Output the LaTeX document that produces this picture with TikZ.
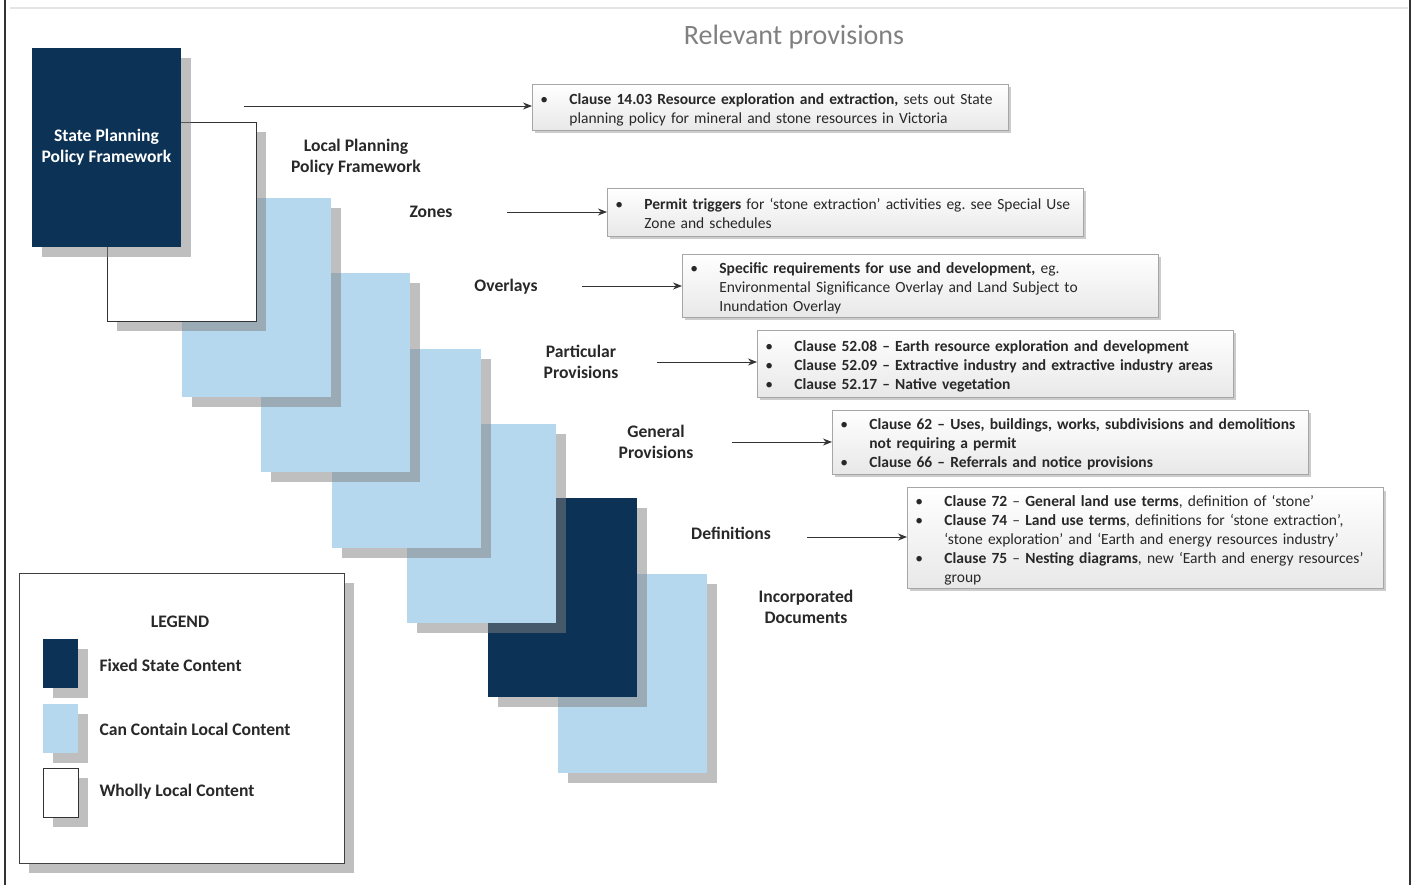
\documentclass[tikz,border=0pt]{standalone}
\usepackage{fontspec}
\setmainfont{Carlito}
\usetikzlibrary{shadows,arrows.meta}
\definecolor{navy}{RGB}{12,50,85}
\definecolor{lblue}{RGB}{182,216,238}
\definecolor{txt}{RGB}{40,40,40}
\frenchspacing
\newcommand\bitem[1]{\par\noindent\makebox[29pt][l]{\textbullet}\parbox[t]{430pt}{\raggedright\strut #1\strut}\par\prevdepth=\dp\strutbox}
\newcommand\lblfont{\fontsize{17.6}{21}\selectfont\bfseries}
\begin{document}
\begin{tikzpicture}[x=1pt,y=-1pt,
  lshadow/.style={drop shadow={shadow xshift=10pt,shadow yshift=-10pt,fill=black!50,opacity=0.5}},
  layerbox/.style={minimum width=149pt,minimum height=199pt,inner sep=0pt,outer sep=0pt,anchor=north west,lshadow},
  fixedbox/.style={layerbox,fill=navy},
  localbox/.style={layerbox,fill=lblue},
  wholebox/.style={layerbox,fill=white,draw=black!80,line width=0.9pt},
  legsq/.style={minimum width=35pt,minimum height=49pt,inner sep=0pt,outer sep=0pt,anchor=north west,lshadow},
  lbl/.style={font=\lblfont,text=txt,align=center},
  pbox/.style={anchor=west,minimum width=476pt,text width=460pt,inner xsep=8pt,inner ysep=0pt,
    draw=black!35,line width=0.8pt,top color=white,bottom color=black!9,
    drop shadow={shadow xshift=3pt,shadow yshift=-3pt,fill=black!40,opacity=0.5},
    font=\fontsize{15.5}{19}\selectfont,text=txt},
  arr/.style={draw=black!80,line width=0.9pt,-{Stealth[length=9pt,width=7pt]}}
]
\useasboundingbox (0,0) rectangle (1413,885);
% frame
\draw[black!80,line width=1.5pt] (5,0) -- (5,885);
\draw[black!80,line width=1.5pt] (1410,0) -- (1410,885);
\draw[black!10,line width=2.5pt] (10,8) -- (1408,8);
\node[text=black!50,font=\fontsize{28}{32}\selectfont] (title) at (794,37) {Relevant provisions};

% stack of layers (drawn from back to front)
\node[localbox] (incdocs) at (558,574) {};
\node[fixedbox] (defs) at (488,498) {};
\node[localbox] (genprov) at (407,424) {};
\node[localbox] (partprov) at (332,349) {};
\node[localbox] (overlays) at (261,273) {};
\node[localbox] (zones) at (182,198) {};
\node[wholebox] (lppf) at (107,122) {};
\node[fixedbox,text=white,font=\lblfont,align=center] (sppf) at (32,48) {State Planning\\Policy Framework};

% labels
\node[lbl] (lLPPF) at (356,157) {Local Planning\\Policy Framework};
\node[lbl] (lZones) at (431,212) {Zones};
\node[lbl] (lOver) at (506,287) {Overlays};
\node[lbl] (lPart) at (581,362) {Particular\\Provisions};
\node[lbl] (lGen) at (656,442) {General\\Provisions};
\node[lbl] (lDef) at (731,533) {Definitions};
\node[lbl] (lInc) at (806,607) {Incorporated\\Documents};

% provision boxes
\node[pbox,minimum height=46pt] (b1) at (532,107) {%
\bitem{\textbf{Clause 14.03 Resource exploration and extraction,} sets out State\\planning policy for mineral and stone resources in Victoria}};
\node[pbox,minimum height=48pt] (b2) at (607,212) {%
\bitem{\textbf{Permit triggers} for ‘stone extraction’ activities eg. see Special Use\\Zone and schedules}};
\node[pbox,minimum height=63pt] (b3) at (682,285.5) {%
\bitem{\textbf{Specific requirements for use and development,} eg.\\Environmental Significance Overlay and Land Subject to\\Inundation Overlay}};
\node[pbox,minimum height=67pt] (b4) at (757,363.5) {%
\bitem{\textbf{Clause 52.08 – Earth resource exploration and development}}
\bitem{\textbf{Clause 52.09 – Extractive industry and extractive industry areas}}
\bitem{\textbf{Clause 52.17 – Native vegetation}}};
\node[pbox,minimum height=64pt] (b5) at (832,442) {%
\bitem{\textbf{Clause 62 – Uses, buildings, works, subdivisions and demolitions\\not requiring a permit}}
\bitem{\textbf{Clause 66 – Referrals and notice provisions}}};
\node[pbox,minimum height=98pt] (b6) at (907,538) {%
\bitem{\textbf{Clause 72} – \textbf{General land use terms}, definition of ‘stone’}
\bitem{\textbf{Clause 74} – \textbf{Land use terms}, definitions for ‘stone extraction’,\\‘stone exploration’ and ‘Earth and energy resources industry’}
\bitem{\textbf{Clause 75} – \textbf{Nesting diagrams}, new ‘Earth and energy resources’\\group}};

% arrows
\coordinate (a1) at (244,106);
\coordinate (a2) at (507,212);
\coordinate (a3) at (582,286);
\coordinate (a4) at (657,362);
\coordinate (a5) at (732,442);
\coordinate (a6) at (807,537);
\draw[arr] (a1) -- (a1 -| b1.west);
\draw[arr] (a2) -- (a2 -| b2.west);
\draw[arr] (a3) -- (a3 -| b3.west);
\draw[arr] (a4) -- (a4 -| b4.west);
\draw[arr] (a5) -- (a5 -| b5.west);
\draw[arr] (a6) -- (a6 -| b6.west);

% legend
\node[draw=black!75,line width=0.9pt,fill=white,minimum width=325pt,minimum height=290pt,anchor=north west,inner sep=0pt,lshadow] (legend) at (19,573) {};
\node[lbl] (legtitle) at (180,622) {LEGEND};
\node[legsq,fill=navy] (legfixed) at (43,639) {};
\node[legsq,fill=lblue] (leglocal) at (43,704) {};
\node[legsq,fill=white,draw=black!80,line width=0.9pt] (legwhole) at (43,768) {};
\node[lbl,anchor=west] (lfixed) at (96,665) {Fixed State Content};
\node[lbl,anchor=west] (llocal) at (96,729) {Can Contain Local Content};
\node[lbl,anchor=west] (lwhole) at (96,792) {Wholly Local Content};
\end{tikzpicture}
\end{document}
